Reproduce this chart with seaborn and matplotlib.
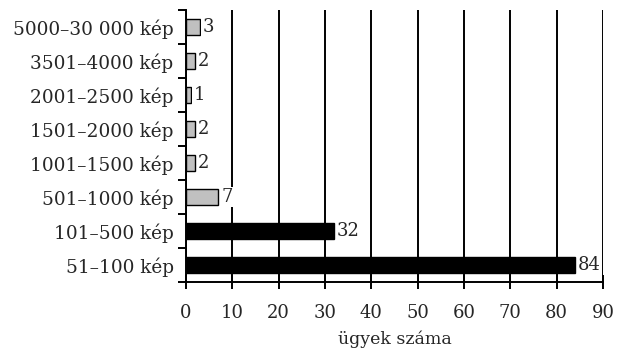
import matplotlib
matplotlib.use("Agg")
import matplotlib.pyplot as plt
import seaborn as sns
import pandas as pd
import numpy as np

categories = ["5000–30 000 kép", "3501–4000 kép", "2001–2500 kép", "1501–2000 kép",
              "1001–1500 kép", "501–1000 kép", "101–500 kép", "51–100 kép"]
values = [3, 2, 1, 2, 2, 7, 32, 84]
groups = ["g", "g", "g", "g", "g", "g", "b", "b"]
xticks = [0, 10, 20, 30, 40, 50, 60, 70, 80, 90]
xlabel = "ügyek száma"

sns.set_theme(style="white")
plt.rcParams['font.family'] = ['DejaVu Serif']

df = pd.DataFrame({"cat": categories, "val": values, "grp": groups})

fig = plt.figure(figsize=(6.17, 3.48), dpi=100)
ax = fig.add_axes([186/617, 1-282/348, (603-186)/617, 272/348])

sns.barplot(data=df, y="cat", x="val", hue="grp", order=categories,
            palette={"g": "#c0c0c0", "b": "#000000"}, dodge=False,
            width=0.45, edgecolor="black", linewidth=1.0, legend=False, ax=ax, zorder=3)

ax.set_xlim(0, 90)
ax.set_ylim(len(categories) - 0.5, -0.5)
ax.set_xticks(xticks)
ax.set_xticklabels([str(t) for t in xticks], fontsize=13)
for t in xticks:
    ax.axvline(t, color="black", lw=1.4, zorder=1)

ax.set_yticks(range(len(categories)))
ax.set_yticklabels(categories, fontsize=13.3)
ax.tick_params(axis="y", which="major", length=0, pad=9)
ax.set_yticks(np.arange(-0.5, len(categories), 1.0), minor=True)
ax.tick_params(axis="y", which="minor", length=6, width=1.4, direction="out", color="black", left=True)
ax.tick_params(axis="x", length=10, width=1.4, direction="inout", color="black", bottom=True, pad=11)

for s in ["top", "right"]:
    ax.spines[s].set_visible(False)
for s in ["left", "bottom"]:
    ax.spines[s].set_color("black")
    ax.spines[s].set_linewidth(1.4)

ax.set_ylabel("")
ax.set_xlabel(xlabel, fontsize=12.5, labelpad=6)

for i, v in enumerate(values):
    ax.text(v + 0.6, i, str(v), va="center", ha="left", fontsize=13, zorder=4,
            bbox=dict(facecolor="white", edgecolor="none", pad=1))

fig.savefig("out.png", dpi=100)
